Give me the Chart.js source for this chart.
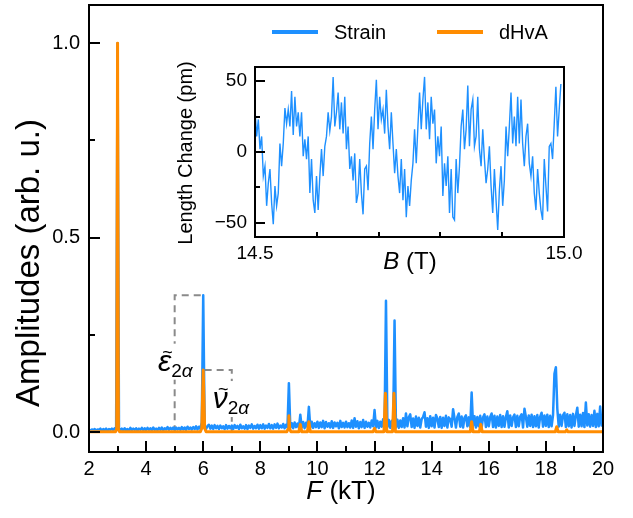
<!DOCTYPE html>
<html>
<head>
<meta charset="utf-8">
<script src="https://cdn.jsdelivr.net/npm/chart.js@4.4.1/dist/chart.umd.min.js"></script>
<style>
    html, body { margin: 0; padding: 0; background: #fff; }
    #wrap  { position: relative; width: 633px; height: 518px; }
    #main  { position: absolute; left: 0; top: 0; }
    #inset { position: absolute; left: 150px; top: 55px; }
</style>
</head>
<body>
<div id="wrap">
    <canvas id="main" width="633" height="518"></canvas>
    <canvas id="inset" width="440" height="235"></canvas>
</div>
<script>
// ==========================================================================
// 1. DATOS
// ==========================================================================

// Espectro FFT: rejilla uniforme en F (kT)
const F_START = 2;
const F_STEP  = 0.05;

// Strain, un valor por cada 0.05 kT desde 2.00 hasta 20.00
const strainAmp = [
    0.006,0.004,0.007,0.005,0.008,0.004,0.007,0.005,0.009,0.004,0.008,0.005,0.009,0.004,0.008,0.006,0.009,0.005,0.010,0.007, // 2
    1.000,0.010,0.005,0.009,0.004,0.010,0.005,0.008,0.004,0.011,0.005,0.009,0.006,0.010,0.004,0.009,0.006,0.011,0.005,0.010, // 3
    0.005,0.011,0.006,0.010,0.005,0.012,0.006,0.009,0.005,0.011,0.006,0.012,0.005,0.010,0.007,0.013,0.006,0.011,0.007,0.012, // 4
    0.006,0.012,0.007,0.011,0.006,0.013,0.007,0.012,0.006,0.014,0.008,0.012,0.007,0.013,0.008,0.015,0.007,0.014,0.009,0.025, // 5
    0.352,0.014,0.008,0.016,0.019,0.009,0.017,0.008,0.018,0.010,0.016,0.008,0.017,0.010,0.015,0.008,0.018,0.009,0.016,0.010, // 6
    0.017,0.008,0.018,0.011,0.016,0.008,0.019,0.010,0.015,0.009,0.018,0.008,0.017,0.011,0.020,0.009,0.016,0.010,0.019,0.009, // 7
    0.018,0.010,0.020,0.009,0.017,0.011,0.021,0.010,0.018,0.009,0.020,0.011,0.022,0.010,0.017,0.012,0.021,0.010,0.019,0.012, // 8
    0.126,0.012,0.023,0.010,0.025,0.013,0.022,0.011,0.045,0.012,0.026,0.010,0.024,0.014,0.065,0.012,0.027,0.011,0.023,0.013, // 9
    0.027,0.011,0.025,0.013,0.029,0.010,0.026,0.014,0.023,0.012,0.028,0.011,0.025,0.015,0.024,0.010,0.029,0.013,0.024,0.012, // 10
    0.027,0.013,0.023,0.012,0.030,0.011,0.036,0.014,0.028,0.010,0.026,0.013,0.031,0.011,0.027,0.014,0.024,0.012,0.030,0.015, // 11
    0.057,0.012,0.029,0.011,0.027,0.014,0.033,0.015,0.338,0.013,0.031,0.011,0.029,0.014,0.287,0.012,0.032,0.011,0.030,0.013, // 12
    0.036,0.012,0.048,0.015,0.038,0.046,0.013,0.035,0.011,0.040,0.016,0.037,0.012,0.034,0.039,0.051,0.014,0.036,0.011,0.041, // 13
    0.015,0.037,0.012,0.044,0.035,0.013,0.039,0.011,0.037,0.016,0.042,0.012,0.038,0.033,0.014,0.059,0.036,0.012,0.039,0.048, // 14
    0.014,0.040,0.012,0.037,0.043,0.015,0.038,0.013,0.102,0.016,0.041,0.012,0.039,0.015,0.042,0.011,0.038,0.046,0.013,0.040, // 15
    0.015,0.039,0.048,0.013,0.042,0.012,0.040,0.016,0.044,0.013,0.041,0.014,0.039,0.054,0.012,0.043,0.016,0.038,0.045,0.013, // 16
    0.042,0.015,0.040,0.046,0.012,0.060,0.039,0.014,0.043,0.016,0.045,0.013,0.041,0.015,0.044,0.012,0.040,0.050,0.014,0.043, // 17
    0.016,0.045,0.013,0.042,0.015,0.044,0.150,0.167,0.060,0.014,0.045,0.016,0.043,0.050,0.013,0.046,0.015,0.044,0.012,0.047, // 18
    0.016,0.043,0.063,0.014,0.045,0.015,0.049,0.013,0.076,0.017,0.046,0.014,0.044,0.016,0.055,0.013,0.047,0.015,0.066,0.017, // 19
    0.045
];

// dHvA: picos sobre una linea base casi nula
const dhvaF = [
    2.00, 2.93, 2.97, 3.00, 3.03, 3.07,
    5.90, 5.95, 6.00, 6.05, 6.10,
    8.93, 8.97, 9.00, 9.03, 9.07,
    9.35, 9.40, 9.45, 9.65, 9.70, 9.75,
    11.95, 12.00, 12.05, 12.33, 12.38, 12.43, 12.63, 12.68, 12.73,
    15.35, 15.40, 15.45, 15.67, 15.72, 15.77,
    18.33, 18.38, 18.43, 18.68, 18.73, 18.78, 20.00
];
const dhvaAmp = [
    0.001, 0.001, 0.008, 1.000, 0.008, 0.001,
    0.001, 0.010, 0.160, 0.010, 0.001,
    0.001, 0.008, 0.042, 0.008, 0.001,
    0.001, 0.020, 0.001, 0.001, 0.027, 0.001,
    0.001, 0.010, 0.001, 0.001, 0.100, 0.001, 0.001, 0.100, 0.001,
    0.001, 0.027, 0.001, 0.001, 0.020, 0.001,
    0.001, 0.014, 0.001, 0.001, 0.006, 0.001, 0.001
];

// Corchetes punteados de las anotaciones
const epsBracketF   = [5.0, 5.0, 5.95];
const epsBracketAmp = [0.0, 0.352, 0.352];
const nuBracketF    = [6.05, 7.0, 7.0];
const nuBracketAmp  = [0.16, 0.16, 0.0];

// Etiquetas de las anotaciones (ancla en unidades de datos)
const annotationLabels = [
    { F: 5.02, amp: 0.176, sym: 'ε', sub: '2α' },
    { F: 6.97, amp: 0.080, sym: 'ν', sub: '2α' }
];

// Ticks del panel principal
const mainXTicks  = [2, 3, 4, 5, 6, 7, 8, 9, 10, 11, 12, 13, 14, 15, 16, 17, 18, 19, 20];
const mainXLabels = [2, 4, 6, 8, 10, 12, 14, 16, 18, 20];
const mainYTicks  = [0, 0.25, 0.5, 0.75, 1.0];
const mainYLabels = [0, 0.5, 1.0];

// Inset: cambio de longitud vs B (T), paso uniforme
const B_START = 14.5;
const B_STEP  = 0.00269;
const lengthChange = [
    30, 11, 23, 2, 11, -17, -10, -38, -22, -12, -36, -51, -24, -38, -29, 6, -10, 6, 31, 20,
    30, 18, 43, 12, 39, 18, 28, 11, 28, -3, 9, -5, 11, -29, -5, -34, -43, -17, -41, -17,
    2, -17, 4, 11, 28, 15, 25, 53, 18, 28, 42, 16, 35, 13, 39, 2, 18, -12, -3, -20,
    -1, -36, -29, -5,
    -29, -44, -12, -10, -27, 6, 25, 2, 30, 51, 16, 39, 23, 30, 13, 44, 18, 2, 28, 6,
    -15, 2, -17, -29, -5, -34, -12, -46, -24, -38, -20, -8, 16, -8, 18, 42, 16, 37, 53, 16,
    35, 9, 39, 20, 30, -8, 11, -3, 18, -31, -8, -24, -3, -43, -12, -46, -48, -5, -29, -10,
    18, 30, 2,
    16, 47, 4, 30, 37, 4, 11, 39, 2, -10, 16, -5, -22, -12, 4, -24, -43, -12, -34, -55,
    -27, -10, -38, -20, 18, -3, 18, 42, 6, 25, 4, 39, 6, 37, 6, -10, 11, 20, -8, -17,
    -3, -29, -41, -12, -29, -41, -48, -5, -24, -42, 4, 6, -5, 20, 46, 11, 30, 48
];

const insetXTicks  = [14.5, 14.6, 14.7, 14.8, 14.9, 15.0];
const insetXLabels = [14.5, 15.0];
const insetYTicks  = [-50, -25, 0, 25, 50];
const insetYLabels = [-50, 0, 50];

// ==========================================================================
// 2. ESTILOS
// ==========================================================================
const BLUE   = '#1E90FF';
const ORANGE = '#FF8C00';
const GREY   = '#8A8A8A';
const FONT   = "'Liberation Sans', Arial, sans-serif";

Chart.defaults.font.family = FONT;
Chart.defaults.color = '#000';

// ==========================================================================
// 3. PLUGINS
// ==========================================================================

// Marco negro + ticks hacia adentro
const frameTicks = {
    id: 'frameTicks',
    afterDraw: (chart, args, opts) => {
        const { ctx, chartArea: a, scales } = chart;
        ctx.save();
        ctx.strokeStyle = '#000';
        ctx.lineWidth = opts.width;
        ctx.beginPath();
        scales.x.ticks.forEach(t => {
            const px = Math.round(scales.x.getPixelForValue(t.value));
            const len = t.label ? opts.xMajor : opts.xMinor;
            ctx.moveTo(px, a.bottom);
            ctx.lineTo(px, a.bottom - len);
        });
        scales.y.ticks.forEach(t => {
            const py = Math.round(scales.y.getPixelForValue(t.value));
            const len = t.label ? opts.yMajor : opts.yMinor;
            ctx.moveTo(a.left, py);
            ctx.lineTo(a.left + len, py);
        });
        ctx.stroke();
        ctx.strokeRect(a.left, a.top, a.right - a.left, a.bottom - a.top);
        ctx.restore();
    }
};

// Titulos de ejes (mezcla de cursiva y normal)
const axisTitles = {
    id: 'axisTitles',
    afterDraw: (chart, args, opts) => {
        const { ctx } = chart;
        ctx.save();
        ctx.fillStyle = '#000';
        ctx.textBaseline = 'middle';

        // Eje x: partes con estilo propio, centradas
        const xt = opts.x;
        const parts = xt.parts.map(p => {
            ctx.font = `${p.italic ? 'italic ' : ''}${xt.size}px ${FONT}`;
            return { ...p, w: ctx.measureText(p.text).width };
        });
        let cx = xt.cx - parts.reduce((s, p) => s + p.w, 0) / 2;
        parts.forEach(p => {
            ctx.font = `${p.italic ? 'italic ' : ''}${xt.size}px ${FONT}`;
            ctx.textAlign = 'left';
            ctx.fillText(p.text, cx, xt.cy);
            cx += p.w;
        });

        // Eje y: rotado
        const yt = opts.y;
        ctx.translate(yt.cx, yt.cy);
        ctx.rotate(-Math.PI / 2);
        ctx.font = `${yt.size}px ${FONT}`;
        ctx.textAlign = 'center';
        ctx.fillText(yt.text, 0, 0);
        ctx.restore();
    }
};

// Leyenda dibujada dentro del area
const insideLegend = {
    id: 'insideLegend',
    afterDraw: (chart, args, opts) => {
        const { ctx } = chart;
        ctx.save();
        ctx.font = `${opts.size}px ${FONT}`;
        ctx.textBaseline = 'middle';
        ctx.textAlign = 'left';
        chart.data.datasets.filter(d => d.label).forEach((d, i) => {
            const x0 = opts.x[i];
            ctx.strokeStyle = d.borderColor;
            ctx.lineWidth = 4;
            ctx.beginPath();
            ctx.moveTo(x0, opts.y);
            ctx.lineTo(x0 + opts.lineLen, opts.y);
            ctx.stroke();
            ctx.fillStyle = '#000';
            ctx.fillText(d.label, x0 + opts.lineLen + opts.gap, opts.y + 1);
        });
        ctx.restore();
    }
};

// Etiquetas con tilde y subindice, fondo blanco
const peakLabels = {
    id: 'peakLabels',
    afterDatasetsDraw: (chart) => {
        const { ctx, scales } = chart;
        ctx.save();
        ctx.textBaseline = 'alphabetic';
        annotationLabels.forEach(l => {
            const cx = scales.x.getPixelForValue(l.F);
            const cy = scales.y.getPixelForValue(l.amp);
            ctx.font = `italic 30px ${FONT}`;
            const ws = ctx.measureText(l.sym).width;
            ctx.font = `19px ${FONT}`;
            const w2 = ctx.measureText('2').width;
            ctx.font = `italic 19px ${FONT}`;
            const wa = ctx.measureText('α').width;
            const total = ws + w2 + wa;
            const x0 = cx - total / 2;
            ctx.fillStyle = '#fff';
            ctx.fillRect(x0 - 2, cy - 20, total + 4, 36);
            ctx.fillStyle = '#000';
            ctx.textAlign = 'left';
            ctx.font = `italic 30px ${FONT}`;
            ctx.fillText(l.sym, x0, cy + 7);
            ctx.textAlign = 'center';
            ctx.font = `18px ${FONT}`;
            ctx.fillText('~', x0 + ws / 2 + 3, cy - 6);
            ctx.textAlign = 'left';
            ctx.font = `19px ${FONT}`;
            ctx.fillText(l.sub[0], x0 + ws, cy + 13);
            ctx.font = `italic 19px ${FONT}`;
            ctx.fillText(l.sub[1], x0 + ws + w2, cy + 13);
        });
        ctx.restore();
    }
};

const toPoints = (xs, ys) => ys.map((y, i) => ({ x: xs[i], y }));
const gridPoints = (start, step, ys) => ys.map((y, i) => ({ x: start + i * step, y }));
const fixTicks = (values) => (scale) => { scale.ticks = values.map(v => ({ value: v })); };
const hasLabel = (labels, v) => labels.some(l => Math.abs(l - v) < 1e-9);
const fitX = (h) => (s) => { s.height = h; s.paddingLeft = 0; s.paddingRight = 0; };
const fitY = (w) => (s) => { s.width = w; s.paddingTop = 0; s.paddingBottom = 0; };

// ==========================================================================
// 4. GRAFICA PRINCIPAL
// ==========================================================================
new Chart(document.getElementById('main'), {
    type: 'line',
    data: {
        datasets: [
            {
                label: 'Strain',
                data: gridPoints(F_START, F_STEP, strainAmp),
                borderColor: BLUE,
                borderWidth: 2.5,
                borderJoinStyle: 'round',
                pointRadius: 0,
                order: 1
            },
            {
                label: 'dHvA',
                data: toPoints(dhvaF, dhvaAmp),
                borderColor: ORANGE,
                borderWidth: 3,
                borderJoinStyle: 'round',
                pointRadius: 0,
                order: 0
            },
            {
                data: toPoints(epsBracketF, epsBracketAmp),
                borderColor: GREY,
                borderWidth: 2,
                borderDash: [7, 5],
                pointRadius: 0,
                order: 2
            },
            {
                data: toPoints(nuBracketF, nuBracketAmp),
                borderColor: GREY,
                borderWidth: 2,
                borderDash: [7, 5],
                pointRadius: 0,
                order: 2
            }
        ]
    },
    options: {
        responsive: false,
        animation: false,
        events: [],
        layout: { padding: { left: 0, right: 30, top: 5, bottom: 0 } },
        plugins: {
            legend: { display: false },
            tooltip: { enabled: false },
            frameTicks: { width: 2, xMajor: 11, xMinor: 6, yMajor: 11, yMinor: 6 },
            axisTitles: {
                x: { cx: 341, cy: 492, size: 26, parts: [{ text: 'F', italic: true }, { text: ' (kT)' }] },
                y: { cx: 30, cy: 263, text: 'Amplitudes (arb. u.)', size: 33 }
            },
            insideLegend: { size: 20, y: 32, x: [272, 437], lineLen: 46, gap: 16 }
        },
        scales: {
            x: {
                type: 'linear',
                min: 2,
                max: 20,
                grid: { display: false, drawTicks: false },
                border: { display: false },
                afterBuildTicks: fixTicks(mainXTicks),
                afterFit: fitX(66),
                ticks: {
                    autoSkip: false,
                    maxRotation: 0,
                    padding: 5,
                    font: { size: 20 },
                    callback: (v) => hasLabel(mainXLabels, v) ? String(v) : ''
                }
            },
            y: {
                type: 'linear',
                min: -0.051,
                max: 1.098,
                grid: { display: false, drawTicks: false },
                border: { display: false },
                afterBuildTicks: fixTicks(mainYTicks),
                afterFit: fitY(89),
                ticks: {
                    autoSkip: false,
                    padding: 9,
                    font: { size: 20 },
                    callback: (v) => hasLabel(mainYLabels, v) ? v.toFixed(1) : ''
                }
            }
        }
    },
    plugins: [frameTicks, axisTitles, insideLegend, peakLabels]
});

// ==========================================================================
// 5. INSET
// ==========================================================================
new Chart(document.getElementById('inset'), {
    type: 'line',
    data: {
        datasets: [{
            data: gridPoints(B_START, B_STEP, lengthChange),
            borderColor: BLUE,
            borderWidth: 1.4,
            pointRadius: 0
        }]
    },
    options: {
        responsive: false,
        animation: false,
        events: [],
        layout: { padding: { left: 0, right: 26, top: 12, bottom: 0 } },
        plugins: {
            legend: { display: false },
            tooltip: { enabled: false },
            frameTicks: { width: 2, xMajor: 5, xMinor: 5, yMajor: 10, yMinor: 5 },
            axisTitles: {
                x: { cx: 260, cy: 207, size: 24, parts: [{ text: 'B', italic: true }, { text: ' (T)' }] },
                y: { cx: 36, cy: 98, text: 'Length Change (pm)', size: 20 }
            }
        },
        scales: {
            x: {
                type: 'linear',
                min: 14.5,
                max: 15.0,
                grid: { display: false, drawTicks: false },
                border: { display: false },
                afterBuildTicks: fixTicks(insetXTicks),
                afterFit: fitX(53),
                ticks: {
                    autoSkip: false,
                    maxRotation: 0,
                    padding: 5,
                    font: { size: 19 },
                    callback: (v) => hasLabel(insetXLabels, v) ? v.toFixed(1) : ''
                }
            },
            y: {
                type: 'linear',
                min: -60,
                max: 60,
                grid: { display: false, drawTicks: false },
                border: { display: false },
                afterBuildTicks: fixTicks(insetYTicks),
                afterFit: fitY(105),
                ticks: {
                    autoSkip: false,
                    padding: 8,
                    font: { size: 19 },
                    callback: (v) => {
                        if (!hasLabel(insetYLabels, v)) return '';
                        return v < 0 ? '\u2212' + Math.abs(v) : String(v);
                    }
                }
            }
        }
    },
    plugins: [frameTicks, axisTitles]
});
</script>
</body>
</html>
